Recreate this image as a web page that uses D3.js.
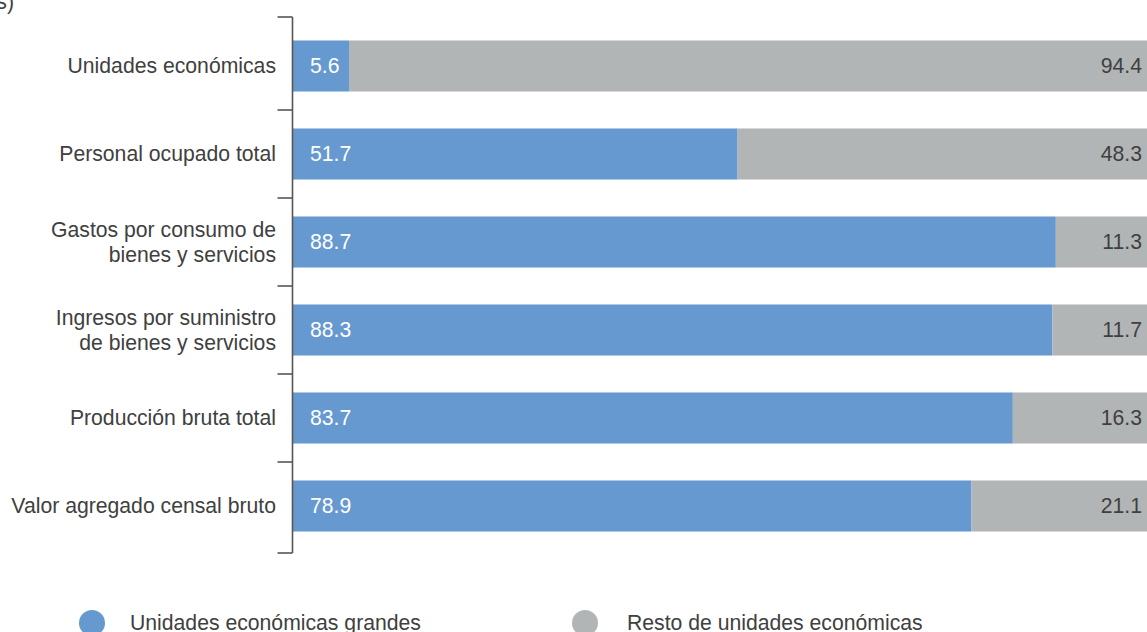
<!DOCTYPE html>
<html><head><meta charset="utf-8">
<script src="https://cdn.jsdelivr.net/npm/d3@7"></script>
<style>body{margin:0;background:#fff}svg{display:block;font-family:"Liberation Sans",Arial,sans-serif}</style>
</head><body><svg id="c" width="1147" height="632"></svg>
<script>
const categories = [
  ["Unidades económicas"],
  ["Personal ocupado total"],
  ["Gastos por consumo de", "bienes y servicios"],
  ["Ingresos por suministro", "de bienes y servicios"],
  ["Producción bruta total"],
  ["Valor agregado censal bruto"]
];
const grandes = [5.6, 51.7, 88.7, 88.3, 83.7, 78.9];
const resto = [94.4, 48.3, 11.3, 11.7, 16.3, 21.1];
const seriesNames = ["Unidades económicas grandes", "Resto de unidades económicas"];
const colors = ["#6699cf", "#b2b5b6"];

const svg = d3.select("#c");
const keys = categories.map(c => c.join(" "));
const y = d3.scaleBand().domain(keys).range([22, 550]).paddingInner(0.42).paddingOuter(0.21);
const x = d3.scaleLinear().domain([0, 100]).range([293, 1153]);
const textCol = "#404040";
const fs = "21.2px";

// title fragment (clipped at top-left)
svg.append("text").attr("x", 14).attr("y", 9).attr("text-anchor", "end")
  .attr("font-size", fs).attr("fill", textCol).text("(Porcentajes)");

const rows = keys.map((k, i) => ({k, lines: categories[i], a: grandes[i], b: resto[i]}));
const wA = d => Math.max(x(d.a) - x(0), 56);

// bars
const g = svg.append("g");
g.selectAll("rect.a").data(rows).join("rect")
  .attr("x", x(0)).attr("y", d => y(d.k)).attr("height", y.bandwidth())
  .attr("width", wA).attr("fill", colors[0]);
g.selectAll("rect.b").data(rows).join("rect")
  .attr("x", d => x(0) + wA(d)).attr("y", d => y(d.k)).attr("height", y.bandwidth())
  .attr("width", d => x(100) - x(0) - wA(d)).attr("fill", colors[1]);

// value labels
g.selectAll("text.a").data(rows).join("text")
  .attr("x", x(0) + 17).attr("y", d => y(d.k) + y.bandwidth() / 2).attr("dy", "0.35em")
  .attr("font-size", fs).attr("fill", "#fff").text(d => d.a.toFixed(1));
g.selectAll("text.b").data(rows).join("text")
  .attr("x", 1142).attr("y", d => y(d.k) + y.bandwidth() / 2).attr("dy", "0.35em")
  .attr("text-anchor", "end").attr("font-size", fs).attr("fill", textCol).text(d => d.b.toFixed(1));

// axis bracket
const ax = 292.5;
const ag = svg.append("g").attr("stroke", "#555").attr("stroke-width", 1.6).attr("fill", "none");
ag.append("line").attr("x1", ax).attr("x2", ax).attr("y1", 17).attr("y2", 553);
const step = y.step();
const bounds = [17];
for (let i = 1; i < keys.length; i++) bounds.push(y(keys[i]) - (step - y.bandwidth()) / 2);
bounds.push(553);
ag.selectAll("line.t").data(bounds).join("line")
  .attr("x1", ax - 15).attr("x2", ax).attr("y1", d => d).attr("y2", d => d);

// category labels
const lg = svg.append("g");
rows.forEach(d => {
  const cy = y(d.k) + y.bandwidth() / 2;
  const n = d.lines.length;
  d.lines.forEach((l, j) => {
    lg.append("text").attr("x", 276).attr("y", cy + (j - (n - 1) / 2) * 25).attr("dy", "0.35em")
      .attr("text-anchor", "end").attr("font-size", fs).attr("fill", textCol).text(l);
  });
});

// legend
const legC = [92, 585];
const legT = [130, 627];
seriesNames.forEach((s, i) => {
  svg.append("circle").attr("cx", legC[i]).attr("cy", 623).attr("r", 13).attr("fill", colors[i]);
  svg.append("text").attr("x", legT[i]).attr("y", 623).attr("dy", "0.35em")
    .attr("font-size", fs).attr("fill", textCol).text(s);
});
</script></body></html>
